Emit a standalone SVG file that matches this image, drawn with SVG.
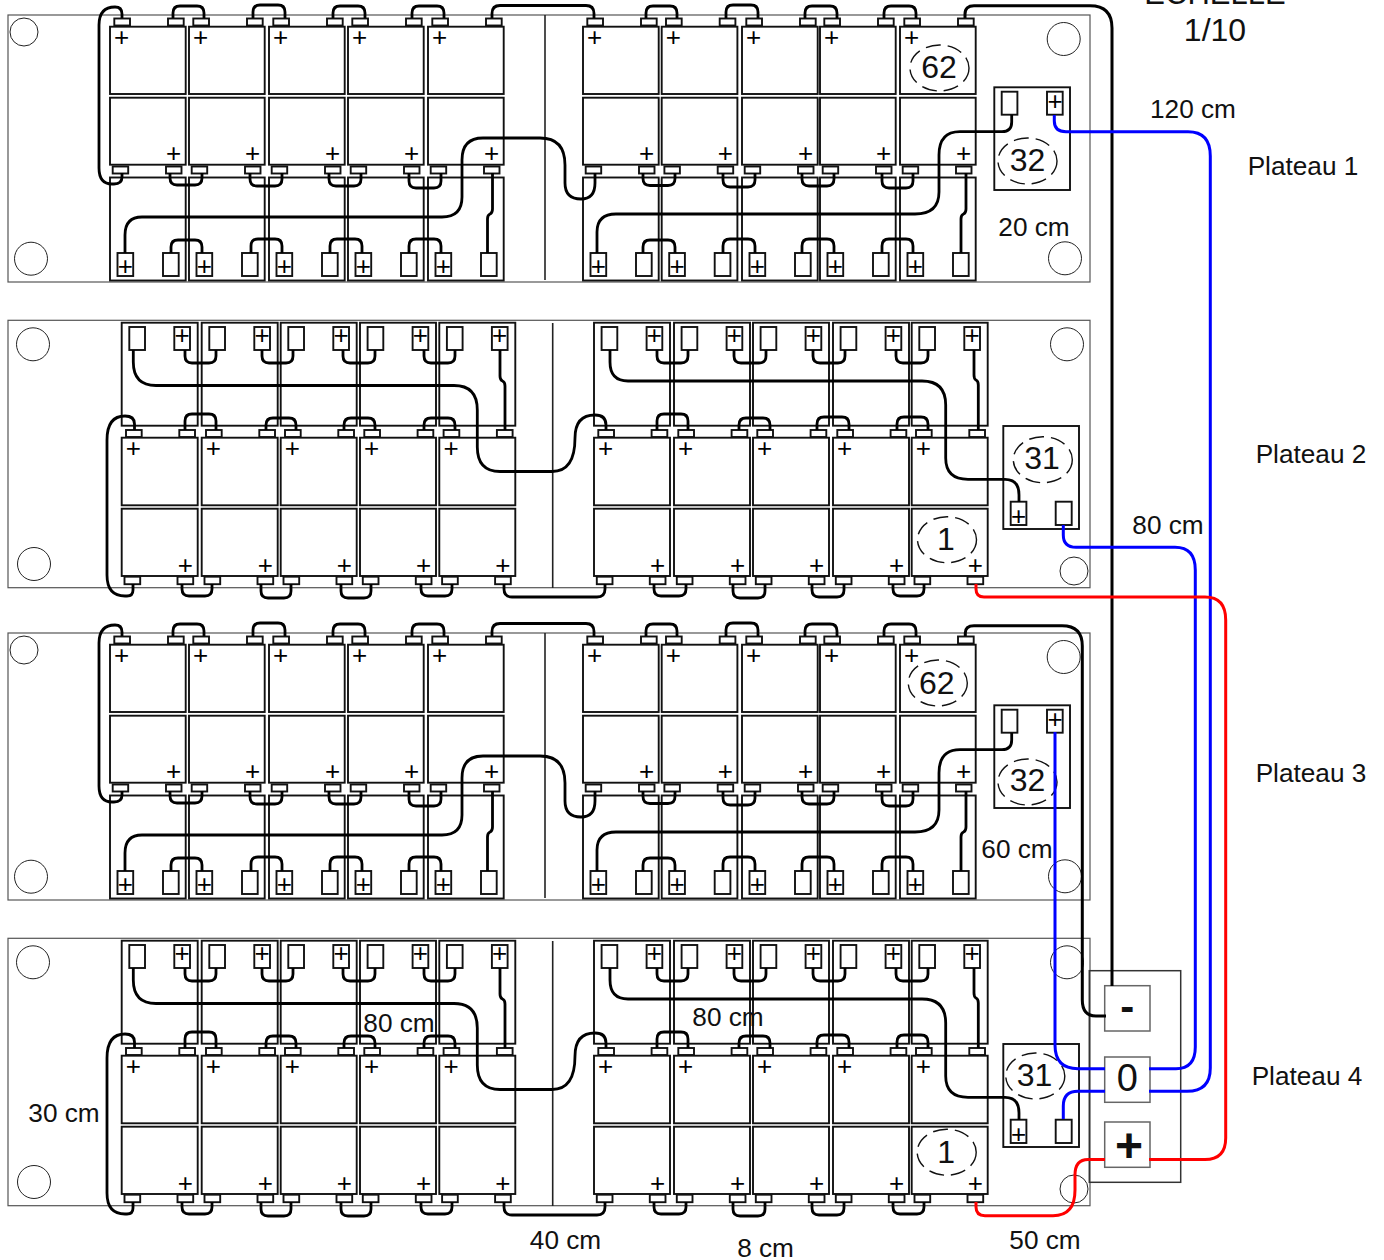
<svg xmlns="http://www.w3.org/2000/svg" width="1384" height="1260" viewBox="0 0 1384 1260">
<style>
text{font-family:"Liberation Sans",Arial,sans-serif;fill:#111}
.l{font-size:26.2px;text-anchor:middle}
.p{font-size:26px;text-anchor:middle;fill:#000}
.n{font-size:32px;text-anchor:middle}
.board{fill:#fff;stroke:#555;stroke-width:1.2}
.div{fill:none;stroke:#222;stroke-width:1.6}
.hole{fill:none;stroke:#222;stroke-width:1}
.bat{fill:#fff;stroke:#111;stroke-width:1.9}
.dash{fill:none;stroke:#111;stroke-width:1.4;stroke-dasharray:15 7}
.w{fill:none;stroke:#000;stroke-width:2.8;stroke-linecap:butt;stroke-linejoin:round}
.b{fill:none;stroke:#00f;stroke-width:3}
.r{fill:none;stroke:#f00;stroke-width:3}
.blk{fill:none;stroke:#333;stroke-width:1.5}
.tb{fill:#fff;stroke:#666;stroke-width:1.5}
</style>
<defs>
<g id="colA">
<rect class="bat" x="0" y="26.7" width="75.7" height="67.3"/>
<rect class="bat" x="0" y="97.7" width="75.7" height="67"/>
<rect class="bat" x="0" y="177.5" width="75.7" height="103"/>
<rect class="bat" x="4.3" y="18.5" width="15.7" height="7"/>
<rect class="bat" x="58" y="18.5" width="15.7" height="7"/>
<rect class="bat" x="2.7" y="166.5" width="15.5" height="7"/>
<rect class="bat" x="56" y="166.5" width="15.5" height="7"/>
<rect class="bat" x="7.5" y="253" width="15.7" height="23"/>
<rect class="bat" x="53" y="253" width="15.7" height="23"/>
<text class="p" x="11.7" y="46.300">+</text>
<text class="p" x="63.7" y="162.300">+</text>
<text class="p" x="15.3" y="275">+</text>
</g>
<g id="colB">
<rect class="bat" x="0" y="322.7" width="76" height="103"/>
<rect class="bat" x="0" y="437.7" width="76" height="67.6"/>
<rect class="bat" x="0" y="508.7" width="76" height="67.3"/>
<rect class="bat" x="4.3" y="430" width="15.7" height="7"/>
<rect class="bat" x="57.6" y="430" width="15.7" height="7"/>
<rect class="bat" x="2.8" y="576.7" width="15.7" height="7.5"/>
<rect class="bat" x="55.8" y="576.7" width="15.7" height="7.5"/>
<rect class="bat" x="7.6" y="327" width="15.7" height="23"/>
<rect class="bat" x="52.6" y="327" width="15.7" height="23"/>
<text class="p" x="11.7" y="457.300">+</text>
<text class="p" x="63.6" y="573.600">+</text>
<text class="p" x="60.4" y="344.300">+</text>
</g>
<g id="rackA">
<rect class="board" x="8" y="15" width="1082" height="267"/>
<line class="div" x1="545" y1="15" x2="545" y2="280"/>
<circle class="hole" cx="24" cy="32" r="14"/>
<circle class="hole" cx="31" cy="258.7" r="16.5"/>
<circle class="hole" cx="1063.7" cy="39" r="16.5"/>
<circle class="hole" cx="1065" cy="258.3" r="16.5"/>
<use href="#colA" x="110"/><use href="#colA" x="189"/><use href="#colA" x="269"/><use href="#colA" x="348"/><use href="#colA" x="428"/>
<use href="#colA" x="583"/><use href="#colA" x="661.7"/><use href="#colA" x="742"/><use href="#colA" x="820"/><use href="#colA" x="900"/>
<rect class="bat" x="994.3" y="87.3" width="75.7" height="102.7"/>
<rect class="bat" x="1001.7" y="91.7" width="15.7" height="23"/>
<rect class="bat" x="1047" y="91.7" width="15.7" height="23"/>
<text class="p" x="1055" y="110.300">+</text>
</g>
<g id="rackB">
<rect class="board" x="8" y="320.3" width="1082" height="267.4"/>
<line class="div" x1="552.7" y1="323" x2="552.7" y2="588"/>
<circle class="hole" cx="33" cy="344.3" r="16.5"/>
<circle class="hole" cx="34" cy="564" r="16.5"/>
<circle class="hole" cx="1067" cy="344.3" r="16.5"/>
<circle class="hole" cx="1074" cy="571" r="14"/>
<use href="#colB" x="121.7"/><use href="#colB" x="201.7"/><use href="#colB" x="280.7"/><use href="#colB" x="360"/><use href="#colB" x="439.3"/>
<use href="#colB" x="594"/><use href="#colB" x="674"/><use href="#colB" x="753"/><use href="#colB" x="833"/><use href="#colB" x="911.7"/>
<rect class="bat" x="1003.3" y="426" width="75.7" height="103"/>
<rect class="bat" x="1010.7" y="501.7" width="15.7" height="23.3"/>
<rect class="bat" x="1055.7" y="501.7" width="16" height="23.3"/>
<text class="p" x="1018.7" y="525">+</text>
</g>
<g id="wiresA">
<path class="w" d="M122 18V14Q122 7 115 7Q99 7 99 25V168Q99 184 112 184H114Q122 184 122 177V173"/>
<path class="w" d="M173 18V13Q173 6 180 6H197Q204 6 204 13V18M253 18V12Q253 5 260 5H278Q285 5 285 12V18M333 18V13Q333 6 340 6H358Q365 6 365 13V18M412 18V13Q412 6 419 6H437Q444 6 444 13V18M492 18V13.500Q492 5.500 500 5.500H586Q594 5.500 594 13.500V18M646 18V13Q646 6 653 6H670Q677 6 677 13V18M726 18V12Q726 5 733 5H751Q758 5 758 12V18M805 18V13Q805 6 812 6H830Q837 6 837 13V18M884 18V13Q884 6 891 6H909Q916 6 916 13V18"/>
<path class="w" d="M170 173V178Q170 185 177 185H195Q202 185 202 178V173M250 173V179Q250 186 257 186H275Q282 186 282 179V173M329 173V179Q329 186 336 186H354Q361 186 361 179V173M409 173V181Q409 188 416 188H434Q441 188 441 181V173M643 173V178.500Q643 185.500 650 185.500H668Q675 185.500 675 178.500V173M723 173V180Q723 187 730 187H748Q755 187 755 180V173M802 173V179Q802 186 809 186H827Q834 186 834 179V173M882 173V181Q882 188 889 188H906Q913 188 913 181V173"/>
<path class="w" d="M171 253V247Q171 240 178 240H195Q202 240 202 247V253M251 253V246Q251 239 258 239H275Q282 239 282 246V253M330 253V246Q330 239 337 239H355Q362 239 362 246V253M409 253V246Q409 239 416 239H434Q441 239 441 246V253M643 253V247Q643 240 650 240H668Q675 240 675 247V253M723 253V246Q723 239 730 239H748Q755 239 755 246V253M802 253V246Q802 239 809 239H827Q834 239 834 246V253M882 253V246Q882 239 889 239H906Q913 239 913 246V253"/>
<path class="w" d="M492.500 173V209Q492.500 213 490 214Q487.500 215 487.500 219V253M966 173V209Q966 213 963.500 214Q961 215 961 219V253"/>
<path class="w" d="M595 173V183Q595 199 581 199Q565 199 565 183V165Q565 138 540 138H483Q462 138 462 160V197Q462 217 442 217H142Q125 217 125 235V253"/>
<path class="w" d="M1011.700 115V122Q1011.700 131.700 1002 131.700H960Q939 131.700 939 155V192Q939 214 915 214H616Q597 214 597 232V253"/>
</g>
<g id="wiresB">
<path class="w" d="M134.500 430V424Q134.500 416 125 416Q107 416 107 440V575Q107 596 125 596H127Q133 596 133 590V584"/>
<path class="w" d="M185 430V421Q185 414 192 414H209Q216 414 216 421V430M266 430V425Q266 418 273 418H289Q296 418 296 425V430M344 430V425Q344 418 351 418H368Q375 418 375 425V430M424 430V425Q424 418 431 418H448Q455 418 455 425V430M657 430V421Q657 414 664 414H681Q688 414 688 421V430M739 430V425Q739 418 746 418H763Q770 418 770 425V430M817 430V424Q817 417 824 417H842Q849 417 849 424V430M897 430V424Q897 417 904 417H921Q928 417 928 424V430"/>
<path class="w" d="M182 584V589Q182 596 189 596H205Q212 596 212 589V584M261 584V591Q261 598 268 598H284Q291 598 291 591V584M341 584V591Q341 598 348 598H364Q371 598 371 591V584M421 584V589Q421 596 428 596H445Q452 596 452 589V584M504 584V589Q504 597 512 597H597Q605 597 605 589V584M654 584V589Q654 596 661 596H679Q686 596 686 589V584M733 584V591Q733 598 740 598H758Q765 598 765 591V584M812 584V590Q812 597 819 597H837Q844 597 844 590V584M893 584V589Q893 596 900 596H917Q924 596 924 589V584"/>
<path class="w" d="M185 350V356Q185 363 192 363H209Q216 363 216 356V350M262 350V356Q262 363 269 363H286Q293 363 293 356V350M343 350V356Q343 363 350 363H368Q375 363 375 356V350M424 350V356Q424 363 431 363H448Q455 363 455 356V350M657 350V356Q657 363 664 363H681Q688 363 688 356V350M734 350V356Q734 363 741 363H759Q766 363 766 356V350M813 350V356Q813 363 820 363H838Q845 363 845 356V350M896 350V356Q896 363 903 363H921Q928 363 928 356V350"/>
<path class="w" d="M500 350V376Q500 380 502.500 381Q505 382 505 386V430M974 350V375Q974 379 976 380Q978.300 381 978.300 385V430"/>
<path class="w" d="M133.300 350V362Q133.300 385.500 156 385.500H454Q477.300 385.500 477.300 410V447Q477.300 471.500 500 471.500H552Q575 471.500 575 438Q575 415 595 415Q606 415 606 425V430"/>
<path class="w" d="M610 350V362Q610 381 628 381H922Q945.700 381 945.700 405V458Q945.700 479.300 968 479.300H1005Q1019 479.300 1019 495V502"/>
</g>
</defs>

<g id="plateau-1">
<use href="#rackA"/>
<ellipse class="dash" cx="939.500" cy="68" rx="29.500" ry="23"/>
<text class="n" x="939" y="78">62</text>
<ellipse class="dash" cx="1027.500" cy="161" rx="29.500" ry="23"/>
<text class="n" x="1027.500" y="171">32</text>
</g>
<g id="plateau-2">
<use href="#rackB"/>
<ellipse class="dash" cx="947" cy="539.700" rx="29.500" ry="23"/>
<text class="n" x="946" y="549.500">1</text>
<ellipse class="dash" cx="1042.800" cy="459.700" rx="29.500" ry="23"/>
<text class="n" x="1042" y="469">31</text>
</g>
<g id="plateau-3">
<use href="#rackA" y="618"/>
<ellipse class="dash" cx="937.800" cy="683" rx="29.500" ry="23"/>
<text class="n" x="936.700" y="693.500">62</text>
<ellipse class="dash" cx="1027.500" cy="782" rx="29.500" ry="23"/>
<text class="n" x="1027.500" y="791">32</text>
</g>
<g id="plateau-4">
<use href="#rackB" y="618"/>
<ellipse class="dash" cx="946.700" cy="1152.200" rx="29.500" ry="23"/>
<text class="n" x="946.200" y="1162.500">1</text>
<ellipse class="dash" cx="1035.300" cy="1076" rx="29.500" ry="23"/>
<text class="n" x="1034.500" y="1086">31</text>
</g>
<g id="terminal-block">
<rect class="blk" x="1089.300" y="970.700" width="91.400" height="211.600"/>
<rect class="tb" x="1104.700" y="985.700" width="45.300" height="45.300"/>
<rect class="tb" x="1104.700" y="1057" width="45.300" height="45.300"/>
<rect class="tb" x="1104.700" y="1122" width="45.300" height="45.300"/>
<text x="1127.300" y="1021" text-anchor="middle" font-size="42" font-weight="bold">-</text>
<text x="1127.300" y="1091" text-anchor="middle" font-size="38">0</text>
<text x="1129" y="1162" text-anchor="middle" font-size="48" font-weight="bold">+</text>
</g>
<g id="connectors">
<use href="#wiresA"/>
<use href="#wiresB"/>
<use href="#wiresA" y="618"/>
<use href="#wiresB" y="618"/>
<path class="w" style="stroke-width:3" d="M965 18V14Q965 5.700 974 5.700H1090Q1112 5.700 1112 28V986"/>
<path class="w" style="stroke-width:3" d="M965.300 636V633Q965.300 625.700 974 625.700H1062Q1082.300 625.700 1082.300 646V1000Q1082.300 1016 1096 1016H1106"/>
<path class="b" d="M1054.300 115V121Q1054.300 131.700 1066 131.700H1188Q1210.300 131.700 1210.300 156V1068Q1210.300 1091.300 1187 1091.300H1149"/>
<path class="b" d="M1063.300 525V535Q1063.300 547.300 1076 547.300H1175Q1195.300 547.300 1195.300 570V1047Q1195.300 1068.700 1176 1068.700H1149"/>
<path class="b" d="M1055 732V1045Q1055 1068.700 1078 1068.700H1105"/>
<path class="b" d="M1063.300 1119V1106Q1063.300 1091.300 1078 1091.300H1105"/>
<path class="r" d="M976 584V589Q976 597 984 597H1205Q1225.700 597 1225.700 620V1138Q1225.700 1159.500 1205 1159.500H1149"/>
<path class="r" d="M1105 1159.500H1088Q1075 1159.500 1075 1175V1190Q1075 1215.700 1053 1215.700H985Q976 1215.700 976 1207V1202"/>
</g>
<g id="labels">
<text x="1215" y="4" text-anchor="middle" font-size="31">ECHELLE</text>
<text x="1215" y="40.500" text-anchor="middle" font-size="32">1/10</text>
<text class="l" x="1193" y="118">120 cm</text>
<text class="l" x="1034" y="236">20 cm</text>
<text class="l" x="1168" y="534">80 cm</text>
<text class="l" x="1017" y="858">60 cm</text>
<text class="l" x="399" y="1032">80 cm</text>
<text class="l" x="728" y="1026">80 cm</text>
<text class="l" x="64" y="1122">30 cm</text>
<text class="l" x="565.500" y="1249">40 cm</text>
<text class="l" x="765.500" y="1257">8 cm</text>
<text class="l" x="1045" y="1249">50 cm</text>
<text class="l" x="1303" y="175">Plateau 1</text>
<text class="l" x="1311" y="463">Plateau 2</text>
<text class="l" x="1311" y="782">Plateau 3</text>
<text class="l" x="1307" y="1085">Plateau 4</text>
</g>
</svg>
